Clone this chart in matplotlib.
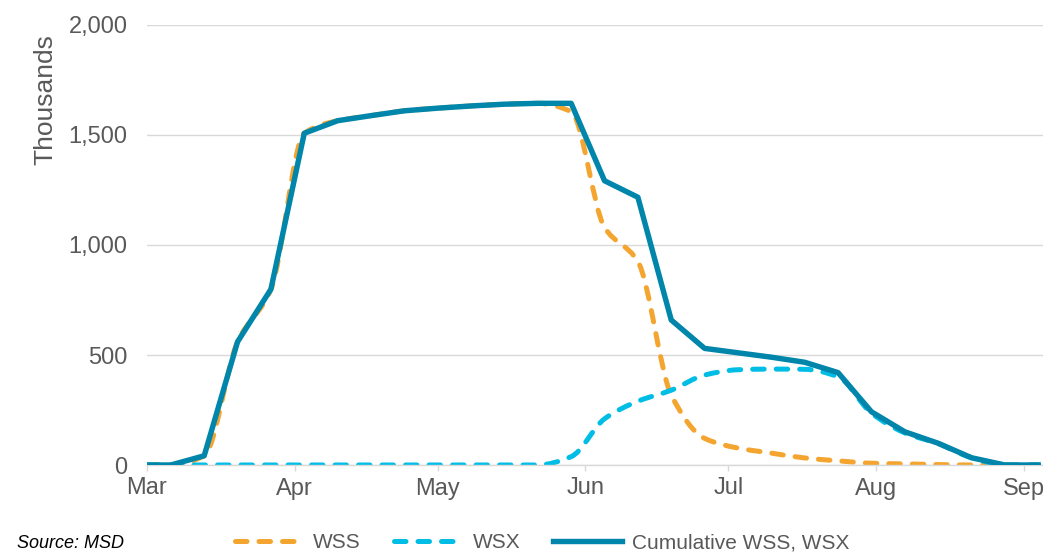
import numpy as np
import pandas as pd
import matplotlib
matplotlib.use("Agg")
import matplotlib.pyplot as plt
import matplotlib.dates as mdates
from matplotlib.path import Path
from matplotlib.patches import PathPatch
from matplotlib.lines import Line2D

plt.rcParams['font.family'] = ['Liberation Sans', 'DejaVu Sans']

# weekly observations (first point is the start of March)
dates = ['2023-03-01', '2023-03-06', '2023-03-13', '2023-03-20', '2023-03-27',
         '2023-04-03', '2023-04-10', '2023-04-17', '2023-04-24', '2023-05-01',
         '2023-05-08', '2023-05-15', '2023-05-22', '2023-05-29', '2023-06-05',
         '2023-06-12', '2023-06-19', '2023-06-26', '2023-07-03', '2023-07-10',
         '2023-07-17', '2023-07-24', '2023-07-31', '2023-08-07', '2023-08-14',
         '2023-08-21', '2023-08-28', '2023-09-04']

wss = [0, 0, 42, 560, 799, 1508, 1565, 1588, 1610, 1622, 1632, 1640, 1644, 1606,
       1080, 925, 318, 121, 77, 54, 32, 19, 8, 5, 2, 0, 0, 0]
wsx = [0, 0, 0, 0, 0, 0, 0, 0, 0, 0, 0, 0, 0, 38,
       210, 290, 340, 409, 433, 436, 435, 401, 236, 146, 97, 33, 0, 0]
cumulative = [0, 0, 42, 560, 799, 1508, 1565, 1588, 1610, 1622, 1632, 1640, 1644, 1644,
              1292, 1217, 659, 530, 510, 490, 467, 420, 242, 151, 99, 33, 0, 0]

month_ticks = ['2023-03-01', '2023-04-01', '2023-05-01', '2023-06-01',
               '2023-07-01', '2023-08-01', '2023-09-01']
month_labels = ['Mar', 'Apr', 'May', 'Jun', 'Jul', 'Aug', 'Sep']

C_WSS = '#F4A52F'
C_WSX = '#00BDE6'
C_CUM = '#0085AB'
C_TXT = '#595959'
C_GRID = '#D9D9D9'


def smooth_path(x, y):
    """Smoothed line drawn as Bezier segments (monotone tangents, no overshoot)."""
    x = np.asarray(x, float)
    y = np.asarray(y, float)
    n = len(x)
    h = np.diff(x)
    d = np.diff(y) / h
    m = np.zeros(n)
    for i in range(1, n - 1):
        if d[i - 1] * d[i] > 0:
            w1 = 2 * h[i] + h[i - 1]
            w2 = h[i] + 2 * h[i - 1]
            m[i] = (w1 + w2) / (w1 / d[i - 1] + w2 / d[i])
    m[0] = d[0]
    m[-1] = d[-1]
    verts = [(x[0], y[0])]
    codes = [Path.MOVETO]
    for i in range(n - 1):
        verts += [(x[i] + h[i] / 3, y[i] + m[i] * h[i] / 3),
                  (x[i + 1] - h[i] / 3, y[i + 1] - m[i + 1] * h[i] / 3),
                  (x[i + 1], y[i + 1])]
        codes += [Path.CURVE4] * 3
    return Path(verts, codes)


x = mdates.date2num(pd.to_datetime(dates))

fig = plt.figure(figsize=(10.43, 5.56), dpi=100)
ax = fig.add_axes([147 / 1043, 1 - 465 / 556, (1043 - 147) / 1043, 440 / 556])

dash = (0, (2.3, 2.4))
lw = 3.6
for vals, col in [(wss, C_WSS), (wsx, C_WSX)]:
    patch = PathPatch(smooth_path(x, vals), fill=False, edgecolor=col, lw=lw,
                      linestyle=dash, capstyle='round', zorder=2)
    ax.add_patch(patch)

ax.plot(x, cumulative, color=C_CUM, lw=3.9, solid_joinstyle='round', zorder=3)

ax.set_ylim(0, 2000)
ax.set_xlim(mdates.date2num(pd.Timestamp('2023-03-01')),
            mdates.date2num(pd.Timestamp('2023-09-05')))
ax.set_yticks([0, 500, 1000, 1500, 2000])
ax.set_yticklabels(['0', '500', '1,000', '1,500', '2,000'])
ax.set_xticks(mdates.date2num(pd.to_datetime(month_ticks)))
ax.set_xticklabels(month_labels)

ax.grid(axis='y', color=C_GRID, lw=1.0, zorder=0)
ax.set_axisbelow(True)
for s in ['top', 'right', 'left']:
    ax.spines[s].set_visible(False)
ax.spines['bottom'].set_color(C_GRID)
ax.spines['bottom'].set_linewidth(1.0)
ax.tick_params(axis='y', length=0, pad=14, labelsize=17, labelcolor=C_TXT)
ax.tick_params(axis='x', length=4, width=1, color=C_GRID, pad=5,
               labelsize=17, labelcolor=C_TXT)

fig.text(45 / 1043, 1 - 100 / 556, 'Thousands', rotation=90, ha='center',
         va='center', fontsize=19, color=C_TXT)

fig.text(17 / 1043, 1 - 543 / 556, 'Source: MSD', style='italic', ha='left',
         va='center', fontsize=13, color='black')

handles = [
    Line2D([], [], color=C_WSS, lw=lw, linestyle=dash, dash_capstyle='round'),
    Line2D([], [], color=C_WSX, lw=lw, linestyle=dash, dash_capstyle='round'),
    Line2D([], [], color=C_CUM, lw=3.9),
]
fig.legend(handles, ['WSS', 'WSX', 'Cumulative WSS, WSX'], loc='center',
           bbox_to_anchor=(542 / 1043, 1 - 543 / 556), ncol=3, frameon=False,
           fontsize=15, labelcolor=C_TXT, handlelength=3.3, handletextpad=0.45,
           columnspacing=1.6, borderpad=0)

fig.savefig('out.png', dpi=100)
